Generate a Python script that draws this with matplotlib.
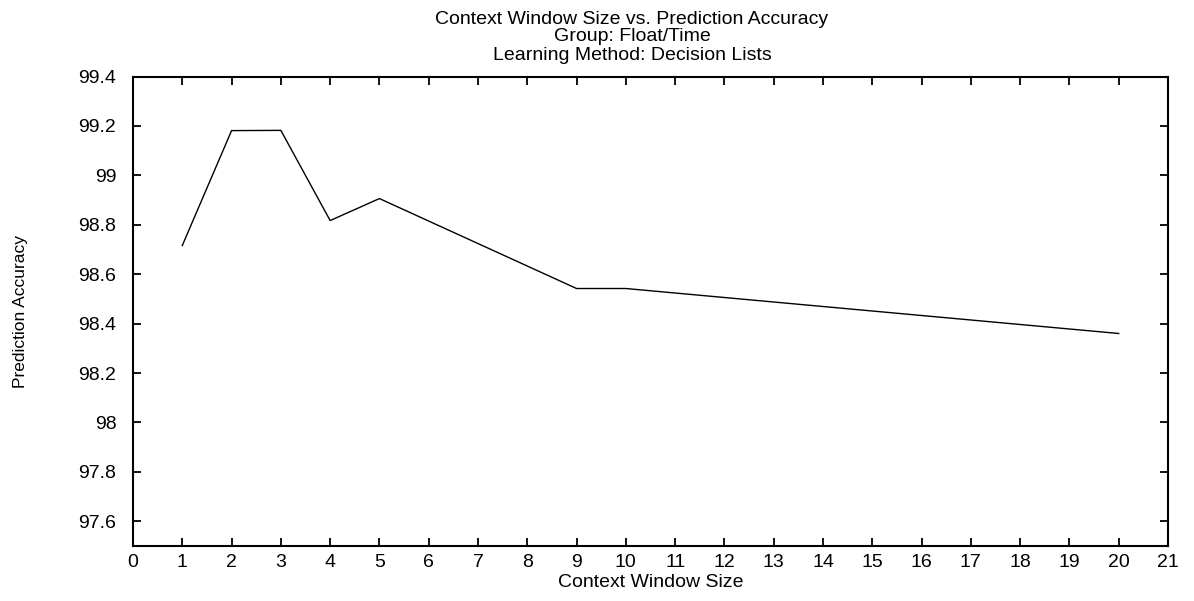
import matplotlib
matplotlib.use("Agg")
import matplotlib.pyplot as plt
from matplotlib import font_manager

# Datos
WINDOW_SIZES = [1, 2, 3, 4, 5, 9, 10, 20]
ACCURACY = [98.716, 99.181, 99.182, 98.817, 98.906, 98.542, 98.542, 98.360]

X_TICKS = list(range(0, 22))
Y_TICKS = [97.6, 97.8, 98.0, 98.2, 98.4, 98.6, 98.8, 99.0, 99.2, 99.4]
Y_TICK_LABELS = ["97.6", "97.8", "98", "98.2", "98.4", "98.6", "98.8", "99", "99.2", "99.4"]

TITLE_LINES = [
    "Context Window Size vs. Prediction Accuracy",
    "Group: Float/Time",
    "Learning Method: Decision Lists",
]

plt.rcParams["font.family"] = ["Liberation Sans", "DejaVu Sans"]

names = {f.name for f in font_manager.fontManager.ttflist}
narrow = "Liberation Sans Narrow" if "Liberation Sans Narrow" in names else "Liberation Sans"

W, H = 1194, 601
fig = plt.figure(figsize=(W / 100, H / 100), dpi=100)
ax = fig.add_axes([133 / W, 1 - 546 / H, (1168 - 133) / W, (546 - 76.5) / H])

ax.plot(WINDOW_SIZES, ACCURACY, color="black", linewidth=1.0)

ax.set_xlim(0, 21)
ax.set_ylim(97.5, 99.4)
ax.set_xticks(X_TICKS)
ax.set_yticks(Y_TICKS)
ax.set_yticklabels(Y_TICK_LABELS)

ax.tick_params(direction="in", length=6, width=1.3, labelsize=14,
               top=True, right=True)
ax.tick_params(axis="x", pad=6)
ax.tick_params(axis="y", pad=12)
for s in ax.spines.values():
    s.set_linewidth(1.5)

ax.set_xlabel("Context Window Size", fontsize=14, labelpad=2)

# título en tres líneas (estilo gnuplot)
for txt, yb in zip(TITLE_LINES, [24, 41, 60]):
    fig.text(632 / W, 1 - yb / H, txt, ha="center", va="baseline", fontsize=14)

fig.text(21 / W, 1 - 311 / H, "Prediction Accuracy", rotation=90, ha="center", va="center",
         fontsize=12.5, family=narrow)

fig.savefig("out.png", dpi=100)
